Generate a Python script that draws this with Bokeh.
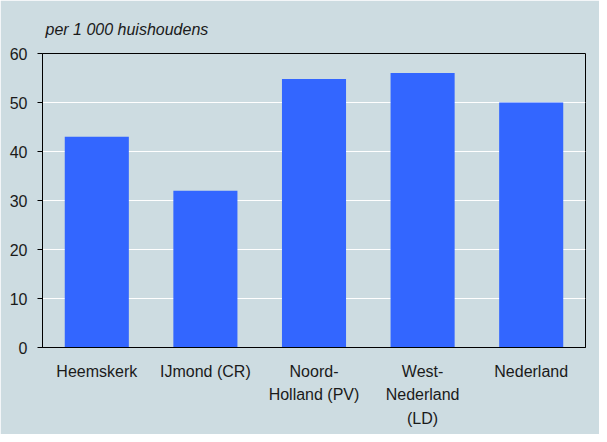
from bokeh.plotting import figure
from bokeh.embed import file_html
from bokeh.resources import INLINE
from bokeh.models import FixedTicker

categories = ["Heemskerk", "IJmond (CR)", "Noord-\nHolland (PV)", "West-\nNederland\n(LD)", "Nederland"]
values = [43, 32, 54.8, 56, 50]
y_ticks = [0, 10, 20, 30, 40, 50, 60]

BG = "#cddce1"
FONT = "Liberation Sans"

p = figure(x_range=categories, y_range=(0, 60), width=599, height=434,
           output_backend="svg", toolbar_location=None,
           background_fill_color=BG, border_fill_color=BG,
           min_border_left=42, min_border_right=14, min_border_top=53, min_border_bottom=87)

p.vbar(x=categories, top=values, width=0.59, color="#3366ff", line_color=None)

p.title.text = "per 1 000 huishoudens"
p.title.text_font = FONT
p.title.text_font_size = "16px"
p.title.text_font_style = "italic"
p.title.text_color = "#1a1a1a"
p.title.align = "left"
p.title.offset = 3
p.title.standoff = 31

p.outline_line_color = "black"
p.outline_line_width = 1

p.xgrid.grid_line_color = None
p.ygrid.grid_line_color = "white"
p.ygrid.grid_line_width = 1

p.yaxis.ticker = FixedTicker(ticks=y_ticks)
p.yaxis.minor_tick_line_color = None
p.yaxis.major_tick_out = 5
p.yaxis.major_tick_in = 0
p.yaxis.major_label_standoff = 10
p.yaxis.axis_line_color = "black"
p.yaxis.major_tick_line_color = "black"

p.xaxis.major_tick_line_color = None
p.xaxis.minor_tick_line_color = None
p.xaxis.axis_line_color = "black"
p.xaxis.major_label_standoff = 9
p.xaxis.major_label_text_line_height = 1.39

for ax in (p.xaxis, p.yaxis):
    ax.major_label_text_font = FONT
    ax.major_label_text_font_size = "16px"
    ax.major_label_text_color = "#1a1a1a"

p.x_range.range_padding = 0

open("out.html", "w").write(file_html(p, INLINE))
